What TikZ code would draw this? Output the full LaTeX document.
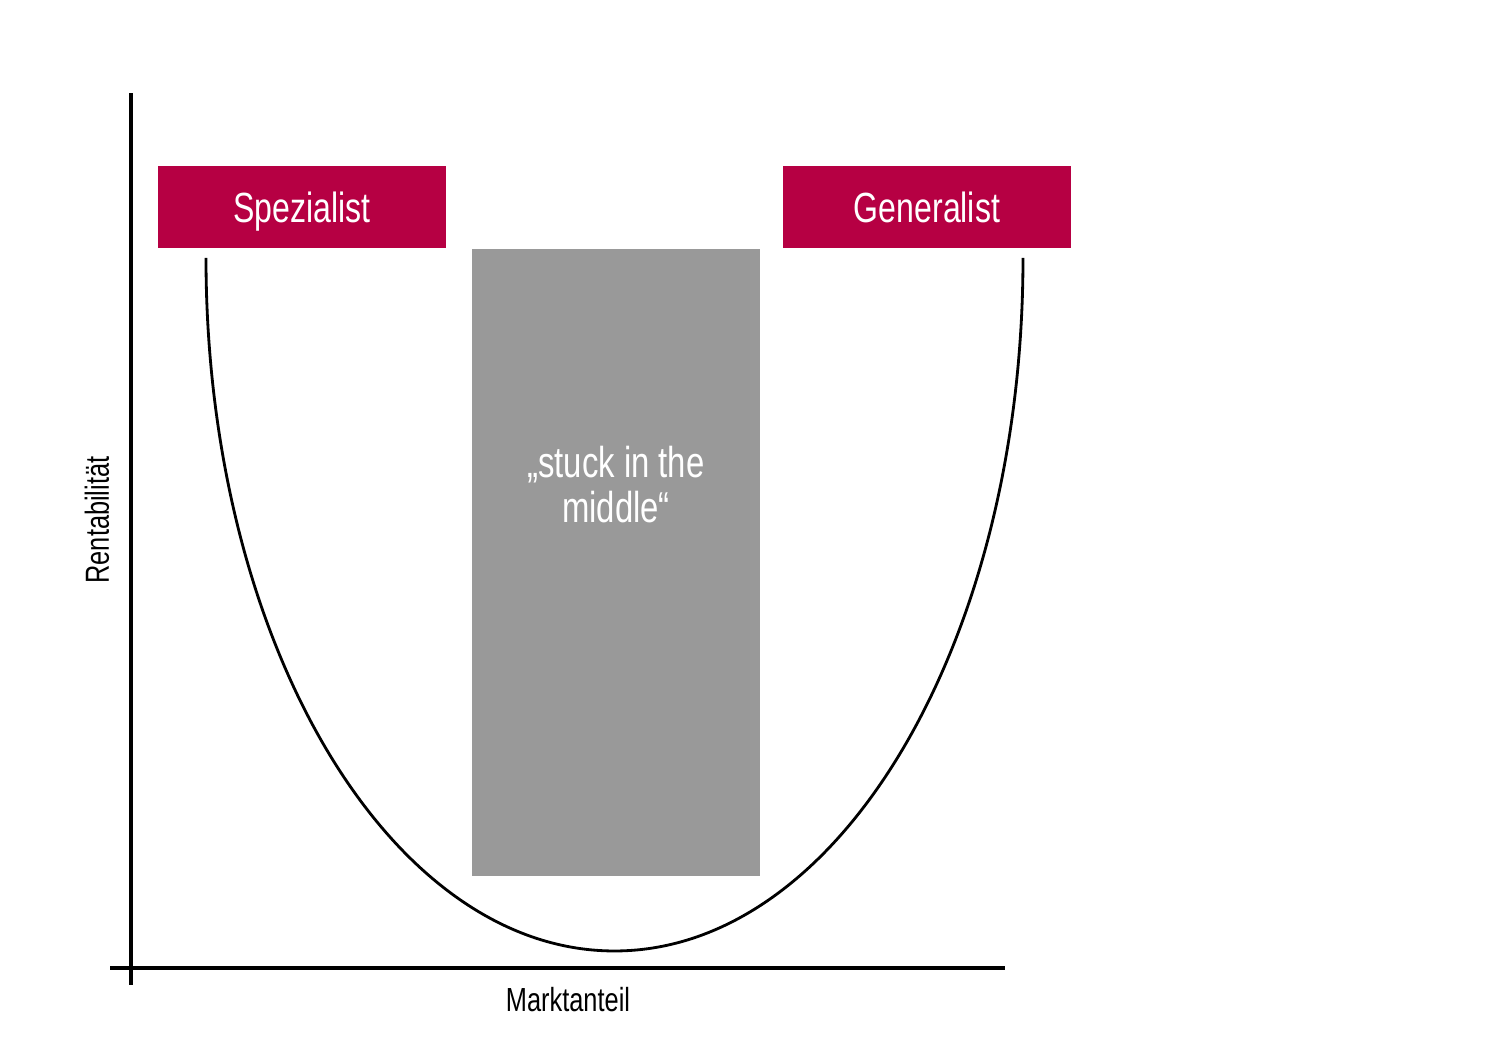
\documentclass[tikz,border=0pt]{standalone}
\usepackage{fontspec}
\setmainfont{Liberation Sans}[FakeStretch=0.76]
\usepackage{tikz}
\usetikzlibrary{positioning}
\definecolor{crimson}{HTML}{B60043}
\definecolor{midgray}{HTML}{999999}
\tikzset{
  label box/.style={fill=crimson, text=white, minimum width=2.88cm, minimum height=0.82cm, inner sep=0pt, text height=8.6pt, text depth=0pt, font=\fontsize{12}{14}\selectfont},
  gray box/.style={fill=midgray, minimum width=2.88cm, minimum height=6.27cm, inner sep=0pt},
  axis/.style={line width=0.9pt},
  axis label/.style={font=\fontsize{9.5}{11}\selectfont, inner sep=0pt}
}

\begin{document}
\begin{tikzpicture}
      \useasboundingbox (0,0) rectangle (15,10.57);
      % Define nodes
      \node[gray box]  (middle) at (6.16,4.945) {};
      \node[label box] (spez) at (3.02,8.50) {Spezialist};
      \node[label box] (gen) at (9.27,8.50) {Generalist};
      \node[text=white, align=center, font=\fontsize{12.3}{12.8}\selectfont, inner sep=0pt, below=1.97cm of middle.north] (stuck) {„stuck in the\\middle“};
      % Axes
      \coordinate (ytop) at (1.31,9.64);
      \coordinate (ybot) at (1.31,0.72);
      \coordinate (xleft) at (1.10,0.89);
      \coordinate (xright) at (10.05,0.89);
      \draw[axis] (ybot) -- (ytop);
      \draw[axis] (xleft) -- (xright);
      \node[axis label, rotate=90] (rent) at (0.97,5.37) {Rentabilität};
      \node[axis label] (markt) at (5.68,0.57) {Marktanteil};
      % Curve
      \coordinate (cstart) at (2.06,7.99);
      \draw[line width=0.8pt] (cstart) arc[start angle=180, end angle=360, x radius=4.085cm, y radius=6.93cm];
    \end{tikzpicture}
\end{document}
